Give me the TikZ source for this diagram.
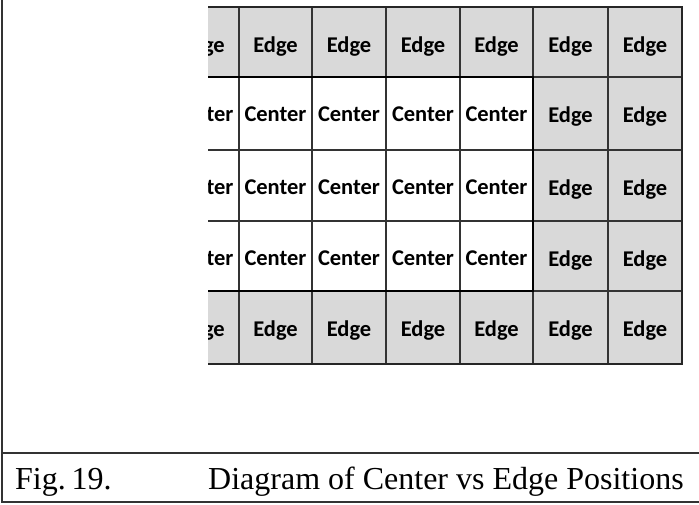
\documentclass[tikz,border=0pt]{standalone}
\usepackage{fontspec}
\setmainfont{Liberation Serif}
\newfontfamily\cellfont{Carlito}
\definecolor{cellgray}{HTML}{D9D9D9}
\begin{document}
\begin{tikzpicture}[x=1pt,y=-1pt,
  celltext/.style={font=\cellfont\bfseries\fontsize{22.5}{26}\selectfont, inner sep=0pt, anchor=base},
  thinline/.style={draw=black!80, line width=1.3pt},
  thickline/.style={draw=black, line width=2.6pt, line cap=rect},
  borderline/.style={draw=black!85, line width=2pt, line cap=rect},
  frameline/.style={draw=black!80, line width=1.1pt},
  captext/.style={font=\fontsize{32}{36}\selectfont, inner sep=0pt, anchor=base west}]
\useasboundingbox (0,0) rectangle (699,504);
% table
\begin{scope}
\clip (208,0) rectangle (699,504);
\foreach \c/\xl/\xr in {0/166/239,1/239/312,2/312/386,3/386/460,4/460/533,5/533/608,6/608/682}{
  \foreach \r/\yt/\yb in {0/7/77,1/77/150,2/150/221,3/221/291,4/291/364}{
    \pgfmathtruncatemacro\isedge{or(or(\r==0,\r==4),\c>4)}
    \ifnum\isedge=1
      \fill[cellgray] (\xl,\yt) rectangle (\xr,\yb);
      \node[celltext] (cell-\r-\c) at ({(\xl+\xr)/2},{\yt+45}) {Edge};
    \else
      \node[celltext] (cell-\r-\c) at ({(\xl+\xr)/2},{\yt+44}) {Center};
    \fi
  }
}
% thin grid lines
\foreach \x in {239,312,386,460,608}{\draw[thinline] (\x,7) -- (\x,364);}
\draw[thinline] (533,7) -- (533,77);
\draw[thinline] (533,291) -- (533,364);
\foreach \y in {150,221}{\draw[thinline] (200,\y) -- (682,\y);}
\draw[thinline] (533,77) -- (682,77);
\draw[thinline] (533,291) -- (682,291);
% thick block around centre cells
\draw[thickline] (200,77) -- (533,77) -- (533,291) -- (200,291);
% outer border
\draw[borderline] (200,7) -- (682,7) -- (682,364) -- (200,364);
\end{scope}
% frame
\draw[frameline] (2,0) -- (2,502) -- (699,502);
\draw[frameline] (2,453) -- (699,453);
% caption
\node[captext] (capnum) at (15,489) {Fig.\hspace{0.18em}19.};
\node[captext] (captitle) at (208,489) {Diagram of Center vs Edge Positions};
\end{tikzpicture}
\end{document}
